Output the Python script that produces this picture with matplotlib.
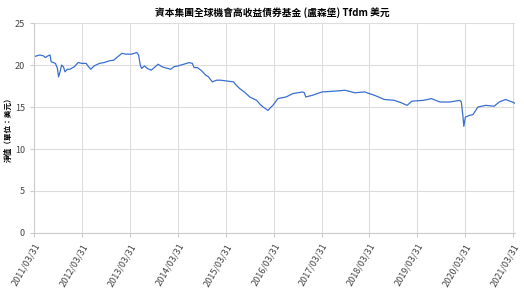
import pandas as pd
import matplotlib.pyplot as plt

plt.rcParams['font.family'] = ['Noto Sans CJK TC', 'DejaVu Sans']

dates = [
    "2011-03-31", "2011-04-20", "2011-05-15", "2011-06-10", "2011-06-25", "2011-07-15",
    "2011-07-31", "2011-08-08", "2011-08-25", "2011-09-10", "2011-09-25", "2011-10-04",
    "2011-10-15", "2011-10-27", "2011-11-10", "2011-11-22", "2011-12-10", "2011-12-28",
    "2012-02-01", "2012-03-01", "2012-04-01", "2012-05-01", "2012-05-20", "2012-06-05",
    "2012-07-01", "2012-08-10", "2012-09-15", "2012-10-24", "2012-11-30", "2012-12-20",
    "2013-01-30", "2013-03-01", "2013-04-13", "2013-05-22", "2013-06-05", "2013-06-18",
    "2013-06-28", "2013-07-20", "2013-08-10", "2013-09-10", "2013-10-10", "2013-11-01",
    "2013-12-01", "2013-12-20", "2014-02-06", "2014-03-01", "2014-04-01", "2014-05-15",
    "2014-06-26", "2014-07-20", "2014-08-02", "2014-08-28", "2014-09-30", "2014-10-30",
    "2014-11-20", "2014-12-19", "2015-01-20", "2015-02-20", "2015-04-09", "2015-05-30",
    "2015-06-20", "2015-07-16", "2015-08-20", "2015-10-01", "2015-11-22", "2015-12-20",
    "2016-01-11", "2016-02-17", "2016-03-05", "2016-03-25", "2016-05-02", "2016-06-01",
    "2016-07-04", "2016-08-23", "2016-10-01", "2016-11-06", "2016-11-20", "2016-12-01",
    "2017-01-20", "2017-04-04", "2017-07-13", "2017-09-27", "2017-12-10", "2018-02-23",
    "2018-03-31", "2018-05-09", "2018-07-23", "2018-10-07", "2018-12-01", "2019-01-12",
    "2019-02-18", "2019-05-18", "2019-07-17", "2019-09-20", "2019-12-05", "2020-02-18",
    "2020-03-01", "2020-03-14", "2020-03-20", "2020-04-01", "2020-05-01", "2020-05-29",
    "2020-07-05", "2020-09-03", "2020-11-06", "2020-12-15", "2021-02-01", "2021-03-25",
    "2021-04-20",
]
nav = [
    21.0, 21.1, 21.2, 21.1, 20.9, 21.1,
    21.2, 20.4, 20.3, 20.2, 19.6, 18.6,
    19.2, 20.0, 19.8, 19.2, 19.5, 19.5,
    19.8, 20.3, 20.2, 20.2, 19.8, 19.5,
    19.9, 20.2, 20.3, 20.5, 20.6, 20.9,
    21.4, 21.3, 21.3, 21.5, 21.2, 20.0,
    19.6, 19.9, 19.6, 19.4, 19.8, 20.1,
    19.8, 19.7, 19.5, 19.8, 19.9, 20.1,
    20.3, 20.2, 19.7, 19.7, 19.3, 18.8,
    18.6, 18.0, 18.2, 18.2, 18.1, 18.0,
    17.6, 17.2, 16.8, 16.2, 15.8, 15.3,
    15.0, 14.6, 14.9, 15.2, 16.0, 16.1,
    16.2, 16.6, 16.7, 16.8, 16.7, 16.2,
    16.4, 16.8, 16.9, 17.0, 16.7, 16.8,
    16.6, 16.4, 15.9, 15.8, 15.5, 15.2,
    15.7, 15.8, 16.0, 15.6, 15.6, 15.8,
    15.6, 13.8, 12.7, 13.8, 14.0, 14.1,
    15.0, 15.2, 15.1, 15.6, 15.9, 15.6,
    15.4,
]
tick_dates = [f"{y}-03-31" for y in range(2011, 2022)]
tick_labels = [f"{y}/03/31" for y in range(2011, 2022)]

title = "資本集團全球機會高收益債券基金 (盧森堡) Tfdm 美元"
ylabel = "淨值（單位：美元）"

df = pd.DataFrame({"date": pd.to_datetime(dates), "nav": nav})

fig = plt.figure(figsize=(5.24, 2.89), dpi=100)
ax = fig.add_axes([0.065, 0.194, 0.918, 0.726])

ax.plot(df["date"], df["nav"], color="#3a6fd0", linewidth=0.9)

ax.set_ylim(0, 25)
ax.set_yticks([0, 5, 10, 15, 20, 25])
ax.set_xlim(pd.Timestamp("2011-03-31"), pd.Timestamp("2021-04-15"))
ax.set_xticks(pd.to_datetime(tick_dates))
ax.set_xticklabels(tick_labels, rotation=60, ha="right", rotation_mode="anchor")

ax.grid(True, color="#dddddd", linewidth=0.8)
ax.set_axisbelow(True)
for s in ["top", "right"]:
    ax.spines[s].set_visible(False)
for s in ["left", "bottom"]:
    ax.spines[s].set_color("#cccccc")
ax.tick_params(axis="both", length=3, color="#cccccc", labelsize=6.5, labelcolor="#444444")

ax.set_ylabel(ylabel, fontsize=5.5, fontweight="bold")
ax.yaxis.set_label_coords(-0.045, 0.5)
fig.text(0.52, 0.955, title, ha="center", va="center", fontsize=7, fontweight="bold")

plt.savefig("out.png", dpi=100)
